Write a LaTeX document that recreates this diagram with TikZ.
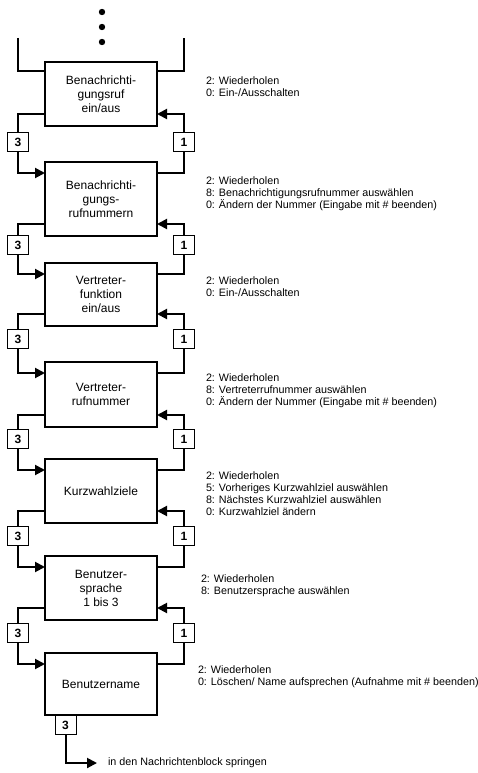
\documentclass[tikz,border=0pt]{standalone}
\usepackage{fontspec}
\setmainfont{Liberation Sans}
\usetikzlibrary{arrows.meta,positioning}

\begin{document}
\begin{tikzpicture}[x=1pt,y=-1pt,->,>={Triangle[length=10pt,width=10pt]},line width=2pt,
  main node/.style={rectangle,draw,fill=white,outer sep=0pt,minimum width=112pt,minimum height=64pt,align=center,font=\fontsize{12}{14}\selectfont},
  key/.style={rectangle,draw,fill=white,line width=1pt,minimum width=21pt,minimum height=19pt,inner sep=0pt,font=\fontsize{12}{14}\selectfont\bfseries},
  info/.style={anchor=north west,inner sep=0pt,align=left,font=\fontsize{10.75}{12}\selectfont}]
  \useasboundingbox (0,0) rectangle (478,773);

  \node[main node] (1) at (101,94) {Benachrichti-\\gungsruf\\ein/aus};
  \node[main node,minimum height=74pt] (2) [below=36pt of 1] {Benachrichti-\\gungs-\\rufnummern};
  \node[main node,minimum height=63pt] (3) [below=27pt of 2] {Vertreter-\\funktion\\ein/aus};
  \node[main node,minimum height=65pt] (4) [below=36pt of 3] {Vertreter-\\rufnummer};
  \node[main node] (5) [below=32pt of 4] {Kurzwahlziele};
  \node[main node] (6) [below=33pt of 5] {Benutzer-\\sprache\\1 bis 3};
  \node[main node,minimum height=62pt] (7) [below=33pt of 6] {Benutzername};

  \node[key] (l1) at (18,142) {3};
  \node[key] (l2) at (18,245) {3};
  \node[key] (l3) at (18,339) {3};
  \node[key] (l4) at (18,439) {3};
  \node[key] (l5) at (18,536) {3};
  \node[key] (l6) at (18,633) {3};
  \node[key] (r1) at (184,142) {1};
  \node[key] (r2) at (184,245) {1};
  \node[key] (r3) at (184,339) {1};
  \node[key] (r4) at (184,439) {1};
  \node[key] (r5) at (184,536) {1};
  \node[key] (r6) at (184,633) {1};
  \node[key,anchor=north] (l7) at ([xshift=20.5pt]7.south west) {3};

  \node[info] (t1) at (205,76) {2: Wiederholen\\0: Ein-/Ausschalten};
  \node[info] (t2) at (205,176) {2: Wiederholen\\8: Benachrichtigungsrufnummer auswählen\\0: Ändern der Nummer (Eingabe mit \# beenden)};
  \node[info] (t3) at (205,276) {2: Wiederholen\\0: Ein-/Ausschalten};
  \node[info] (t4) at (205,373) {2: Wiederholen\\8: Vertreterrufnummer auswählen\\0: Ändern der Nummer (Eingabe mit \# beenden)};
  \node[info] (t5) at (205,471) {2: Wiederholen\\5: Vorheriges Kurzwahlziel auswählen\\8: Nächstes Kurzwahlziel auswählen\\0: Kurzwahlziel ändern};
  \node[info] (t6) at (200,574) {2: Wiederholen\\8: Benutzersprache auswählen};
  \node[info] (t7) at (197,665) {2: Wiederholen\\0: Löschen/ Name aufsprechen (Aufnahme mit \# beenden)};
  \node[anchor=west,inner sep=0pt,inner xsep=10pt,font=\fontsize{10.75}{12}\selectfont] (exit) at (97,763) {in den Nachrichtenblock springen};

  \fill (102,12) circle (3.2pt);
  \fill (102,27) circle (3.2pt);
  \fill (102,42) circle (3.2pt);
  \coordinate (in) at (18,38);
  \coordinate (up) at (184,38);
  \draw[-] (in) |- ([yshift=-9pt]1.north west);
  \draw[-] ([yshift=-9pt]1.north east) -| (up);

  \draw ([yshift=12pt]1.south west) -| (l1) |- ([yshift=-11pt]2.north west);
  \draw ([yshift=12pt]2.south west) -| (l2) |- ([yshift=-11pt]3.north west);
  \draw ([yshift=12pt]3.south west) -| (l3) |- ([yshift=-11pt]4.north west);
  \draw ([yshift=12pt]4.south west) -| (l4) |- ([yshift=-11pt]5.north west);
  \draw ([yshift=12pt]5.south west) -| (l5) |- ([yshift=-11pt]6.north west);
  \draw ([yshift=12pt]6.south west) -| (l6) |- ([yshift=-11pt]7.north west);
  \draw ([yshift=-11pt]2.north east) -| (r1) |- ([yshift=12pt]1.south east);
  \draw ([yshift=-11pt]3.north east) -| (r2) |- ([yshift=12pt]2.south east);
  \draw ([yshift=-11pt]4.north east) -| (r3) |- ([yshift=12pt]3.south east);
  \draw ([yshift=-11pt]5.north east) -| (r4) |- ([yshift=12pt]4.south east);
  \draw ([yshift=-11pt]6.north east) -| (r5) |- ([yshift=12pt]5.south east);
  \draw ([yshift=-11pt]7.north east) -| (r6) |- ([yshift=12pt]6.south east);
  \draw (l7) |- (exit);
\end{tikzpicture}
\end{document}
